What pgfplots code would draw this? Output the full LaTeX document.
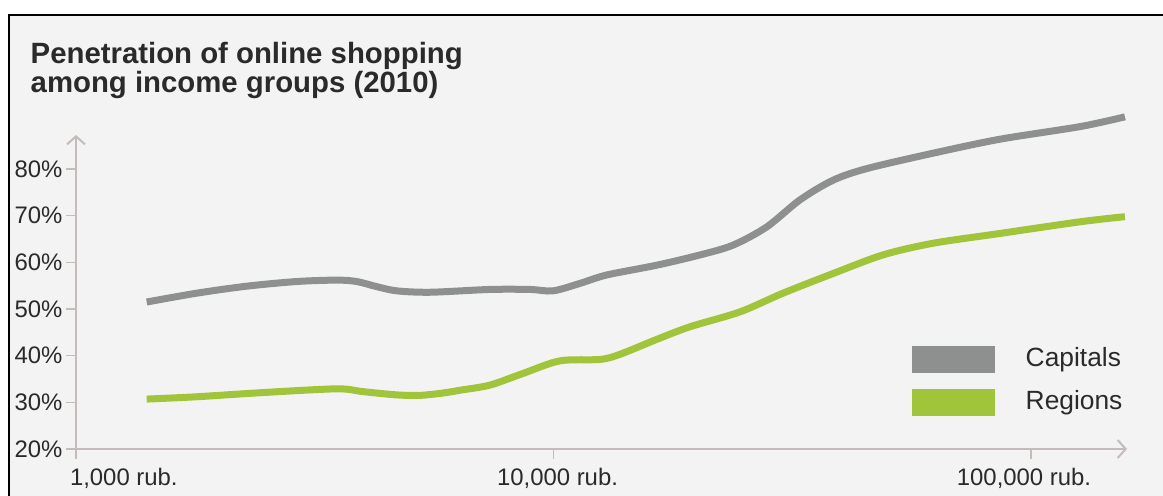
\documentclass[border=0pt]{standalone}
\usepackage{fontspec}
\setmainfont{Liberation Sans}
\usepackage{pgfplots}
\pgfplotsset{compat=1.18}
\usetikzlibrary{arrows.meta}
\definecolor{bgc}{HTML}{F3F3F3}
\definecolor{capc}{HTML}{8E908F}
\definecolor{regc}{HTML}{A0C43A}
\definecolor{axc}{HTML}{C4BCBA}
\definecolor{txt}{HTML}{2A2A2A}
\begin{document}
\begin{tikzpicture}[x=0.1mm,y=0.1mm]
\useasboundingbox (0,0) rectangle (1163,495);
\fill[bgc] (9,-10) rectangle (1175,480);
\draw[black, line width=0.22mm] (9,-10) -- (9,480) -- (1175,480);
\node[anchor=base west, font=\fontsize{8.35}{9}\selectfont\bfseries, text=txt, inner sep=0pt] at (30,432) {Penetration of online shopping};
\node[anchor=base west, font=\fontsize{8.35}{9}\selectfont\bfseries, text=txt, inner sep=0pt] at (30,403) {among income groups (2010)};
\begin{axis}[
  at={(7.6mm,4.6mm)}, anchor=south west,
  scale only axis, width=105.1mm, height=31.4mm,
  xmode=log, xmin=1000, xmax=158900, ymin=20, ymax=87.3,
  axis lines=left, clip=false,
  axis line style={draw=axc, line width=0.2mm, -{Straight Barb[length=0.8mm,width=1.8mm]}},
  tick style={draw=axc, line width=0.15mm},
  major tick length=1.0mm, tick align=outside,
  ytick={20,30,40,50,60,70,80},
  yticklabels={20\%,30\%,40\%,50\%,60\%,70\%,80\%},
  xtick={1000,10000,100000},
  xminorticks=false,
  xticklabels={{\rlap{\hspace*{-0.6mm}1,000 rub.}},{\hspace*{0.8mm}10,000 rub.},{100,000 rub.\hspace*{1.4mm}}},
  ticklabel style={font=\fontsize{6.8}{8}\selectfont, text=txt},
  yticklabel style={inner xsep=0.3mm},
  xticklabel style={yshift=0.3mm},
  legend style={draw=none, fill=none, at={(0.7945,0.331)}, anchor=north west,
    inner sep=0pt, row sep=1.65mm, font=\fontsize{7.5}{9}\selectfont, text=txt,
    nodes={inner sep=0pt},
    /tikz/every odd column/.style={column sep=3.1mm}},
  legend cell align=left,
  legend image code/.code={\fill[#1, draw=none] (0mm,-1.35mm) rectangle (8.3mm,1.35mm);},
]
\addplot[color=capc, line width=0.7mm, smooth, tension=0.5] coordinates {
(1406,51.5) (1789,53.4) (2278,54.9) (2899,55.9) (3516,56.2) (3871,55.9)
(4263,54.8) (4695,53.9) (5513,53.6) (7362,54.2) (8929,54.2) (9977,53.9)
(11363,55.5) (12924,57.3) (16453,59.4) (20273,61.6) (23769,63.7) (27962,67.6)
(32826,73.4) (38481,77.6) (45290,80.1) (62345,83.4) (86099,86.4) (126650,89.1)
(157300,91.2)
};
\addplot[color=regc, line width=0.7mm, smooth, tension=0.5] coordinates {
(1406,30.7) (1789,31.2) (2464,32.1) (3516,32.9) (3990,32.3) (4695,31.6)
(5253,31.5) (5869,32.0) (6372,32.6) (7362,33.7) (8632,36.2) (10318,38.9)
(12513,39.2) (13781,40.3) (16453,43.5) (19318,46.2) (24585,49.4) (30244,53.4)
(38481,57.6) (48978,61.6) (62345,64.1) (86099,66.2) (126650,68.7) (157300,69.8)
};
\legend{Capitals,Regions}
\end{axis}
\end{tikzpicture}
\end{document}
